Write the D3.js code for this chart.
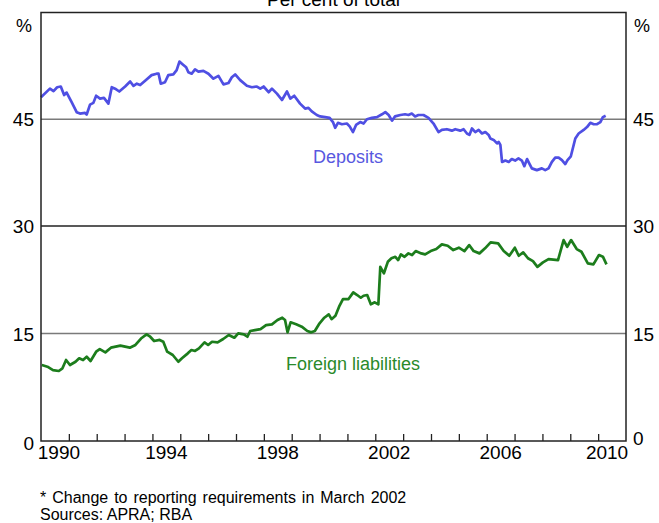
<!DOCTYPE html>
<html>
<head>
<meta charset="utf-8">
<script src="https://cdn.jsdelivr.net/npm/d3@7"></script>
<style>
  body { margin: 0; background: #fff; }
  svg text { font-family: "Liberation Sans", Arial, sans-serif; }
</style>
</head>
<body>
<svg id="chart" width="659" height="523"></svg>
<script>
const width = 659;
const height = 523;

// chart values (decimal year, per cent of total)
const depositYears = [1990.0, 1990.32, 1990.45, 1990.58, 1990.71, 1990.83, 1990.92, 1991.1, 1991.28, 1991.4, 1991.58, 1991.64, 1991.76, 1991.88, 1991.98, 1992.12, 1992.26, 1992.42, 1992.54, 1992.66, 1992.81, 1993.02, 1993.2, 1993.32, 1993.44, 1993.56, 1993.79, 1993.97, 1994.15, 1994.22, 1994.3, 1994.45, 1994.57, 1994.75, 1994.87, 1994.97, 1995.09, 1995.21, 1995.29, 1995.41, 1995.53, 1995.65, 1995.83, 1996.01, 1996.19, 1996.37, 1996.55, 1996.73, 1996.85, 1996.97, 1997.15, 1997.39, 1997.57, 1997.75, 1997.87, 1997.99, 1998.17, 1998.29, 1998.47, 1998.65, 1998.83, 1998.95, 1999.09, 1999.3, 1999.48, 1999.6, 1999.72, 1999.9, 2000.02, 2000.2, 2000.36, 2000.48, 2000.56, 2000.66, 2000.8, 2000.98, 2001.08, 2001.2, 2001.31, 2001.46, 2001.58, 2001.7, 2001.88, 2002.06, 2002.24, 2002.36, 2002.48, 2002.6, 2002.71, 2002.9, 2003.07, 2003.19, 2003.31, 2003.43, 2003.55, 2003.73, 2003.91, 2004.09, 2004.27, 2004.39, 2004.57, 2004.75, 2004.87, 2005.05, 2005.17, 2005.29, 2005.38, 2005.47, 2005.59, 2005.71, 2005.83, 2005.95, 2006.07, 2006.13, 2006.25, 2006.37, 2006.43, 2006.49, 2006.55, 2006.67, 2006.79, 2006.9, 2007.02, 2007.14, 2007.26, 2007.35, 2007.45, 2007.54, 2007.62, 2007.8, 2007.98, 2008.1, 2008.22, 2008.34, 2008.46, 2008.58, 2008.7, 2008.82, 2008.9, 2009.02, 2009.18, 2009.3, 2009.48, 2009.6, 2009.72, 2009.84, 2009.96, 2010.08, 2010.17, 2010.27];
const depositValues = [48.1, 49.3, 48.95, 49.5, 49.6, 48.4, 48.75, 47.4, 46.0, 45.8, 45.9, 45.66, 47.06, 47.3, 48.3, 47.9, 48.0, 47.2, 49.5, 49.3, 48.9, 49.6, 50.3, 49.7, 50.0, 49.8, 50.6, 51.2, 51.4, 51.4, 50.0, 50.2, 51.2, 51.3, 51.9, 53.1, 52.7, 52.3, 51.6, 51.4, 52.0, 51.7, 51.8, 51.4, 50.7, 51.1, 49.9, 50.1, 50.9, 51.3, 50.5, 49.7, 49.5, 49.6, 49.3, 49.6, 48.8, 49.3, 48.6, 47.7, 48.9, 47.9, 48.3, 47.2, 46.5, 46.6, 46.1, 45.6, 45.4, 45.3, 45.2, 44.6, 43.8, 44.5, 44.3, 44.4, 44.0, 43.2, 44.2, 44.6, 44.4, 45.0, 45.2, 45.3, 45.7, 46.0, 45.6, 44.8, 45.4, 45.6, 45.7, 45.6, 45.8, 45.4, 45.6, 45.6, 45.2, 44.4, 43.2, 43.5, 43.6, 43.4, 43.6, 43.4, 43.6, 43.0, 42.8, 43.7, 43.2, 43.5, 43.0, 43.2, 42.8, 42.3, 42.1, 41.6, 41.8, 41.4, 39.0, 39.2, 39.0, 39.4, 39.2, 39.5, 39.2, 38.4, 39.4, 38.7, 38.1, 37.85, 38.1, 37.85, 38.1, 39.0, 39.6, 39.6, 39.25, 38.7, 39.25, 39.8, 42.3, 43.0, 43.5, 43.9, 44.5, 44.3, 44.3, 44.6, 45.3, 45.5];

const foreignYears = [1990.03, 1990.23, 1990.43, 1990.64, 1990.77, 1990.9, 1991.04, 1991.24, 1991.37, 1991.51, 1991.64, 1991.78, 1991.98, 1992.11, 1992.31, 1992.51, 1992.85, 1993.19, 1993.39, 1993.59, 1993.79, 1993.92, 1994.06, 1994.26, 1994.39, 1994.53, 1994.73, 1994.93, 1995.06, 1995.27, 1995.4, 1995.53, 1995.67, 1995.87, 1996.0, 1996.14, 1996.34, 1996.54, 1996.74, 1996.94, 1997.08, 1997.28, 1997.41, 1997.51, 1997.68, 1997.88, 1998.08, 1998.29, 1998.49, 1998.66, 1998.76, 1998.85, 1998.96, 1999.16, 1999.36, 1999.56, 1999.7, 1999.83, 2000.0, 2000.17, 2000.33, 2000.43, 2000.57, 2000.7, 2000.84, 2001.04, 2001.21, 2001.35, 2001.48, 2001.58, 2001.71, 2001.84, 2001.98, 2002.11, 2002.18, 2002.31, 2002.45, 2002.58, 2002.72, 2002.82, 2002.92, 2003.05, 2003.19, 2003.32, 2003.45, 2003.65, 2003.79, 2003.99, 2004.19, 2004.39, 2004.6, 2004.8, 2005.0, 2005.2, 2005.37, 2005.53, 2005.74, 2005.94, 2006.14, 2006.41, 2006.61, 2006.81, 2007.01, 2007.15, 2007.31, 2007.48, 2007.66, 2007.82, 2008.02, 2008.22, 2008.56, 2008.76, 2008.89, 2009.03, 2009.23, 2009.4, 2009.63, 2009.83, 2010.03, 2010.17, 2010.3];
const foreignValues = [10.6, 10.37, 9.9, 9.77, 10.14, 11.3, 10.6, 11.06, 11.54, 11.3, 11.76, 11.16, 12.46, 12.83, 12.37, 13.02, 13.3, 13.02, 13.4, 14.3, 14.88, 14.55, 13.95, 14.1, 13.85, 12.46, 12.0, 11.06, 11.54, 12.23, 12.7, 12.56, 12.93, 13.77, 13.4, 13.85, 13.77, 14.23, 14.79, 14.41, 15.02, 14.88, 14.55, 15.35, 15.48, 15.62, 16.18, 16.28, 16.88, 17.2, 16.88, 15.16, 16.56, 16.28, 15.95, 15.35, 15.16, 15.35, 16.42, 17.2, 17.67, 17.0, 17.48, 18.74, 19.81, 19.81, 20.74, 20.37, 19.99, 20.27, 20.37, 19.07, 19.35, 19.07, 24.3, 23.4, 25.0, 25.5, 25.7, 25.25, 26.04, 25.7, 26.18, 25.95, 26.5, 26.18, 26.04, 26.5, 26.78, 27.44, 27.25, 26.64, 26.97, 26.5, 27.34, 26.5, 26.18, 26.88, 27.72, 27.58, 26.5, 25.85, 26.97, 25.85, 26.32, 25.5, 25.1, 24.3, 24.92, 25.39, 25.25, 28.04, 27.1, 28.04, 26.78, 26.41, 24.79, 24.65, 25.95, 25.72, 24.65];

const xLabels = [1990, 1994, 1998, 2002, 2006, 2010];
const topTicks = [45, 30];
const bottomTicks = [30, 15, 0];

const deposits = depositYears.map((y, i) => ({ year: y, value: depositValues[i] }));
const foreign = foreignYears.map((y, i) => ({ year: y, value: foreignValues[i] }));

const plotLeft = 41, plotRight = 626, plotTop = 12.5, plotMid = 226, plotBottom = 441;

const svg = d3.select("#chart");

const x = d3.scaleLinear().domain([1990, 2011]).range([plotLeft, plotRight]);
const yTop = d3.scaleLinear().domain([30, 60]).range([plotMid, plotTop]);
const yBot = d3.scaleLinear().domain([0, 30]).range([plotBottom, plotMid]);

// title, partly cut off at the top like in the source
svg.append("text")
    .attr("x", (plotLeft + plotRight) / 2)
    .attr("y", 6)
    .attr("text-anchor", "middle")
    .attr("font-size", 19)
    .attr("fill", "#000")
    .text("Per cent of total");

// gridlines
svg.append("line")
    .attr("x1", plotLeft).attr("x2", plotRight)
    .attr("y1", yTop(45)).attr("y2", yTop(45))
    .attr("stroke", "#7a7a7a").attr("stroke-width", 1.5);
svg.append("line")
    .attr("x1", plotLeft).attr("x2", plotRight)
    .attr("y1", yBot(15)).attr("y2", yBot(15))
    .attr("stroke", "#7a7a7a").attr("stroke-width", 1.5);
svg.append("line")
    .attr("x1", plotLeft).attr("x2", plotRight)
    .attr("y1", yBot(30)).attr("y2", yBot(30))
    .attr("stroke", "#222").attr("stroke-width", 1.5);

// year ticks pointing up from the bottom edge
var xAxis = d3.axisTop(x)
    .tickValues(d3.range(1991, 2011))
    .tickSize(7)
    .tickFormat("");
svg.append("g")
    .attr("transform", `translate(0, ${plotBottom})`)
    .call(xAxis)
    .call(g => g.select(".domain").remove())
    .call(g => g.selectAll(".tick line").attr("stroke", "#222").attr("stroke-width", 1.3));

// year labels sit in the middle of each year
svg.append("g")
    .selectAll("text")
    .data(xLabels)
    .enter().append("text")
    .attr("x", d => x(d + 0.5) + (d === 1990 ? 4 : d === 2010 ? -5 : 0))
    .attr("y", 459)
    .attr("text-anchor", "middle")
    .attr("font-size", 19)
    .attr("fill", "#000")
    .text(d => d);

// y labels on both sides
const yLabels = topTicks.map(v => ({ v: v, y: yTop(v) }))
    .concat(bottomTicks.filter(v => v !== 30).map(v => ({ v: v, y: yBot(v) })));

svg.append("g")
    .selectAll("text")
    .data(yLabels)
    .enter().append("text")
    .attr("x", 34)
    .attr("y", d => d.y + (d.v === 0 ? 9 : 7))
    .attr("text-anchor", "end")
    .attr("font-size", 19)
    .text(d => d.v);
svg.append("g")
    .selectAll("text")
    .data(yLabels)
    .enter().append("text")
    .attr("x", 633)
    .attr("y", d => d.y + (d.v === 0 ? 4 : 7))
    .attr("text-anchor", "start")
    .attr("font-size", 19)
    .text(d => d.v);

svg.append("text").attr("x", 24).attr("y", 32).attr("text-anchor", "middle")
    .attr("font-size", 18).text("%");
svg.append("text").attr("x", 642).attr("y", 32).attr("text-anchor", "middle")
    .attr("font-size", 18).text("%");

// series lines
var lineTop = d3.line().x(d => x(d.year)).y(d => yTop(d.value));
var lineBot = d3.line().x(d => x(d.year)).y(d => yBot(d.value));

svg.append("path")
    .datum(deposits)
    .attr("d", lineTop)
    .attr("fill", "none")
    .attr("stroke", "#4f4fe3")
    .attr("stroke-width", 2.7)
    .attr("stroke-linejoin", "round");

svg.append("path")
    .datum(foreign)
    .attr("d", lineBot)
    .attr("fill", "none")
    .attr("stroke", "#1c7d1c")
    .attr("stroke-width", 2.7)
    .attr("stroke-linejoin", "round");

// series labels
svg.append("text").attr("x", 348).attr("y", 163).attr("text-anchor", "middle")
    .attr("font-size", 18).attr("fill", "#5858e0").text("Deposits");
svg.append("text").attr("x", 353).attr("y", 370).attr("text-anchor", "middle")
    .attr("font-size", 18).attr("fill", "#2a8a2a").text("Foreign liabilities");

// frame
svg.append("rect")
    .attr("x", plotLeft).attr("y", plotTop)
    .attr("width", plotRight - plotLeft).attr("height", plotBottom - plotTop)
    .attr("fill", "none")
    .attr("stroke", "#222")
    .attr("stroke-width", 1.5);

// notes
svg.append("text").attr("x", 40).attr("y", 503).attr("font-size", 16)
    .attr("word-spacing", 1.5)
    .text("* Change to reporting requirements in March 2002");
svg.append("text").attr("x", 40).attr("y", 520).attr("font-size", 16)
    .text("Sources: APRA; RBA");
</script>
</body>
</html>
